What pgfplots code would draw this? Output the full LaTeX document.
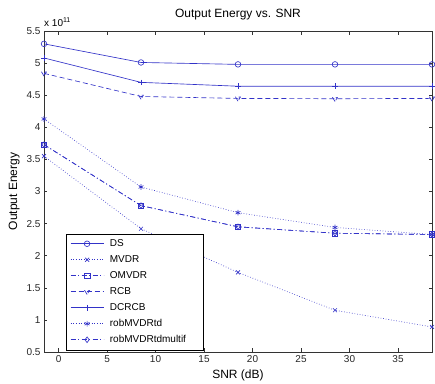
\documentclass[border=0pt]{standalone}
\usepackage{fontspec}
\setmainfont{Liberation Sans}
\usepackage{pgfplots}
\pgfplotsset{compat=1.18}
\definecolor{mb}{RGB}{50,50,200}
\begin{document}
\fontsize{10bp}{12bp}\selectfont
\begin{tikzpicture}
\begin{axis}[
  scale only axis, width=388bp, height=321bp,
  xmin=-1.5, xmax=38.5, ymin=0.5, ymax=5.5,
  xtick={0,5,10,15,20,25,30,35},
  ytick={0.5,1,1.5,2,2.5,3,3.5,4,4.5,5,5.5},
  /pgf/number format/assume math mode=true,
  tick align=inside, major tick length=3.5bp,
  axis line style={black!80, line width=0.5bp},
  every tick/.style={black!80, line width=0.5bp},
  tick label style={font=\fontsize{10bp}{12bp}\selectfont, text=black!85},
  title={Output Energy vs. SNR},
  title style={font=\fontsize{12bp}{14bp}\selectfont, at={(rel axis cs:0.5,1)}, anchor=base, yshift=8bp},
  xlabel={SNR (dB)},
  ylabel={Output Energy},
  label style={font=\fontsize{12bp}{14bp}\selectfont},
  every axis plot/.append style={mb, line width=0.65bp, mark size=2.8bp, mark options={solid}},
  legend cell align=left,
  legend style={at={(rel axis cs:0.0567,0.0062)}, anchor=south west, draw=black, line width=0.5bp,
    fill=white, inner xsep=4bp, inner ysep=4bp, row sep=4bp,
    font=\fontsize{10bp}{12bp}\selectfont,
    nodes={inner sep=1bp, text height=7.5bp, text depth=2.5bp, line width=0.65bp},
    /tikz/every odd column/.append style={column sep=5bp}},
  legend image code/.code={\draw[mark repeat=2,mark phase=2,#1] plot coordinates {(0bp,0bp) (16.5bp,0bp) (33bp,0bp)};},
  clip=false,
]
% DS
\addplot[solid, mark=o] coordinates {(-1.5,5.30) (8.5,5.01) (18.5,4.98) (28.5,4.98) (38.5,4.98)};
% MVDR
\addplot[dotted, mark=x] coordinates {(-1.5,3.55) (8.5,2.42) (18.5,1.74) (28.5,1.15) (38.5,0.89)};
% OMVDR
\addplot[dash pattern=on 5bp off 2.5bp on 1bp off 2.5bp, mark=square] coordinates {(-1.5,3.73) (8.5,2.78) (18.5,2.45) (28.5,2.35) (38.5,2.33)};
% RCB
\addplot[dash pattern=on 5bp off 3bp, mark=triangle, mark options={rotate=180}] coordinates {(-1.5,4.84) (8.5,4.48) (18.5,4.45) (28.5,4.445) (38.5,4.45)};
% DCRCB
\addplot[solid, mark=+] coordinates {(-1.5,5.08) (8.5,4.70) (18.5,4.64) (28.5,4.64) (38.5,4.64)};
% robMVDRtd
\addplot[dotted, mark=asterisk] coordinates {(-1.5,4.13) (8.5,3.07) (18.5,2.67) (28.5,2.44) (38.5,2.33)};
% robMVDRtdmultif
\addplot[dash pattern=on 5bp off 2.5bp on 1bp off 2.5bp, mark=diamond] coordinates {(-1.5,3.73) (8.5,2.78) (18.5,2.45) (28.5,2.35) (38.5,2.33)};
\legend{DS,MVDR,OMVDR,RCB,DCRCB,robMVDRtd,robMVDRtdmultif\kern12bp}
\node[anchor=base west, inner sep=0pt, font=\fontsize{10bp}{12bp}\selectfont] at ([yshift=5bp]rel axis cs:0,1) {x 10\textsuperscript{11}};
\end{axis}
\pgfresetboundingbox
\path (current axis.south west) ++(-44bp,-32bp) rectangle ++(435bp,384bp);
\end{tikzpicture}
\end{document}
